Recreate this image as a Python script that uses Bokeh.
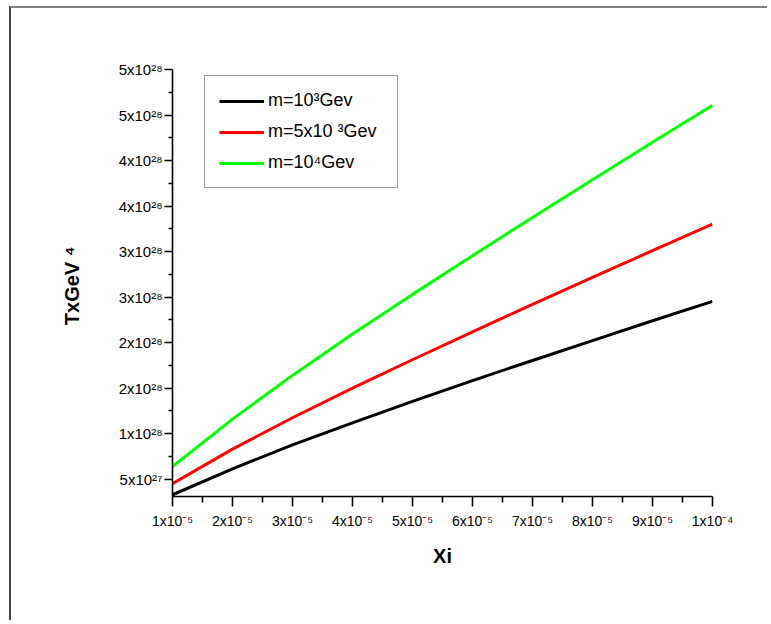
from bokeh.plotting import figure
from bokeh.models import Range1d, FixedTicker
from bokeh.embed import file_html
from bokeh.resources import INLINE

# ---- data ----
xi = [1e-05, 2e-05, 3e-05, 4e-05, 5e-05, 6e-05, 7e-05, 8e-05, 9e-05, 1e-04]
t_m1e3 = [0.329e28, 0.614e28, 0.877e28, 1.118e28, 1.354e28, 1.583e28, 1.804e28, 2.022e28, 2.240e28, 2.453e28]
t_m5e3 = [0.451e28, 0.830e28, 1.175e28, 1.500e28, 1.812e28, 2.118e28, 2.420e28, 2.717e28, 3.010e28, 3.301e28]
t_m1e4 = [0.638e28, 1.160e28, 1.640e28, 2.095e28, 2.530e28, 2.955e28, 3.375e28, 3.790e28, 4.200e28, 4.607e28]

series_labels = ["m=10³Gev", "m=5x10 ³Gev", "m=10⁴Gev"]
series_colors = ["#000000", "#ff0000", "#00ff00"]

x_ticks = [1e-05, 2e-05, 3e-05, 4e-05, 5e-05, 6e-05, 7e-05, 8e-05, 9e-05, 1e-04]
x_minor = [1.5e-05, 2.5e-05, 3.5e-05, 4.5e-05, 5.5e-05, 6.5e-05, 7.5e-05, 8.5e-05, 9.5e-05]
x_tick_labels = ["1x10⁻⁵", "2x10⁻⁵", "3x10⁻⁵", "4x10⁻⁵", "5x10⁻⁵",
                 "6x10⁻⁵", "7x10⁻⁵", "8x10⁻⁵", "9x10⁻⁵", "1x10⁻⁴"]

y_ticks = [5e27, 1e28, 1.5e28, 2e28, 2.5e28, 3e28, 3.5e28, 4e28, 4.5e28, 5e28]
y_minor = [7.5e27, 1.25e28, 1.75e28, 2.25e28, 2.75e28, 3.25e28, 3.75e28, 4.25e28, 4.75e28]
y_tick_labels = ["5x10²⁷", "1x10²⁸", "2x10²⁸", "2x10²⁸", "3x10²⁸",
                 "3x10²⁸", "4x10²⁸", "4x10²⁸", "5x10²⁸", "5x10²⁸"]

FONT = "Liberation Sans"

# the page frame: the figure host starts at (9, 6) with a left/top border
p = figure(width=758, height=614, output_backend="svg", toolbar_location=None,
           x_range=Range1d(1e-05, 1e-04), y_range=Range1d(3.1e27, 5e28),
           min_border_left=161, min_border_right=57, min_border_top=61, min_border_bottom=126,
           margin=(6, 0, 0, 9),
           styles={"border-left": "2px solid #444444", "border-top": "2px solid #808080"})
p.background_fill_color = "white"
p.border_fill_color = "white"
p.outline_line_color = None
p.grid.visible = False

for ys, lab, col in zip([t_m1e3, t_m5e3, t_m1e4], series_labels, series_colors):
    p.line(xi, ys, line_color=col, line_width=3, legend_label=lab)

# axes
xa = p.xaxis[0]
xa.ticker = FixedTicker(ticks=x_ticks, minor_ticks=x_minor)
xa.major_label_overrides = {t: l for t, l in zip(x_ticks, x_tick_labels)}
xa.axis_label = "Xi"
ya = p.yaxis[0]
ya.ticker = FixedTicker(ticks=y_ticks, minor_ticks=y_minor)
ya.major_label_overrides = {t: l for t, l in zip(y_ticks, y_tick_labels)}
ya.axis_label = "TxGeV  ⁴"

for ax in (xa, ya):
    ax.axis_line_color = "black"
    ax.axis_line_width = 1.6
    ax.major_tick_line_color = "black"
    ax.major_tick_line_width = 1.6
    ax.minor_tick_line_color = "black"
    ax.minor_tick_line_width = 1.6
    ax.major_tick_in = 0
    ax.minor_tick_in = 0
    ax.major_label_text_font = FONT
    ax.major_label_text_color = "black"
    ax.axis_label_text_font = FONT
    ax.axis_label_text_font_style = "bold"
    ax.axis_label_text_color = "black"

xa.major_tick_out = 10
xa.minor_tick_out = 6
xa.major_label_standoff = 6
xa.major_label_text_font_size = "14px"
xa.axis_label_text_font_size = "20px"
xa.axis_label_standoff = 13

ya.major_tick_out = 8
ya.minor_tick_out = 4
ya.major_label_standoff = 2
ya.major_label_text_font_size = "15px"
ya.axis_label_text_font_size = "20px"
ya.axis_label_standoff = 33

# legend
lg = p.legend[0]
lg.location = (32, 308)
lg.border_line_color = "#333333"
lg.border_line_width = 1.2
lg.background_fill_color = "white"
lg.background_fill_alpha = 1.0
lg.label_text_font = FONT
lg.label_text_font_size = "18px"
lg.label_text_color = "black"
lg.glyph_width = 45
lg.glyph_height = 20
lg.label_height = 20
lg.label_width = 115
lg.label_standoff = 4
lg.padding = 14
lg.spacing = 10
lg.margin = 0

open("out.html", "w").write(file_html(p, INLINE))
